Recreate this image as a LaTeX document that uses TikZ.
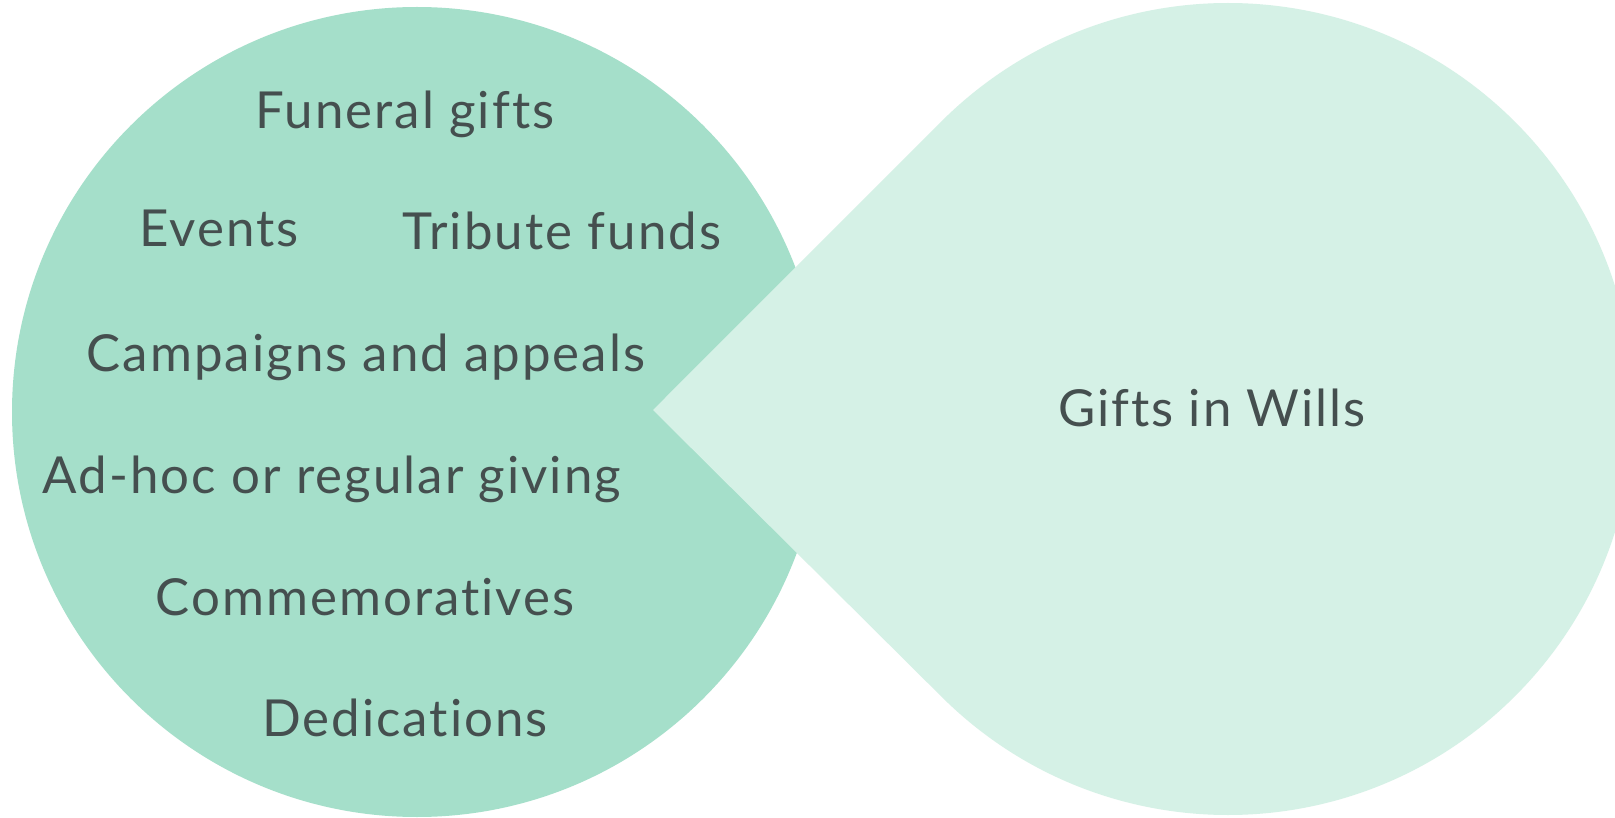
\documentclass[tikz,border=0pt]{standalone}
\usepackage{fontspec}
\setmainfont{Lato}[Ligatures=NoCommon,LetterSpace=4]
\usetikzlibrary{calc}
\definecolor{leftgreen}{HTML}{A5DFCA}
\definecolor{rightgreen}{HTML}{D5F1E6}
\definecolor{txt}{HTML}{454F4F}
\begin{document}
\begin{tikzpicture}[x=1pt,y=-1pt,
  lbl/.style={anchor=base,inner sep=0pt,text=txt,font=\fontsize{51}{55}\selectfont}]
\useasboundingbox (0,0) rectangle (1615,818);
\fill[white] (0,0) rectangle (1615,818);
% left circle
\node[circle,fill=leftgreen,minimum size=810pt,inner sep=0pt] (L) at (417,412) {};
% right teardrop
\coordinate (C) at (1228,409);
\coordinate (apex) at (653,410);
\fill[rightgreen] (apex) -- ($(C)+(135:406)$) arc[start angle=135,end angle=-135,radius=406] -- cycle;
% labels
\node[lbl] (fg) at (405,129) {Funeral gifts};
\node[lbl] (ev) at (219,247) {Events};
\node[lbl] (tf) at (562,250) {Tribute funds};
\node[lbl] (ca) at (366,372) {Campaigns and appeals};
\node[lbl] (ah) at (332,493) {Ad-hoc or regular giving};
\node[lbl] (cm) at (365,615) {Commemoratives};
\node[lbl] (de) at (405,736) {Dedications};
\node[lbl] (gw) at (1212,426) {Gifts in Wills};
\end{tikzpicture}
\end{document}
